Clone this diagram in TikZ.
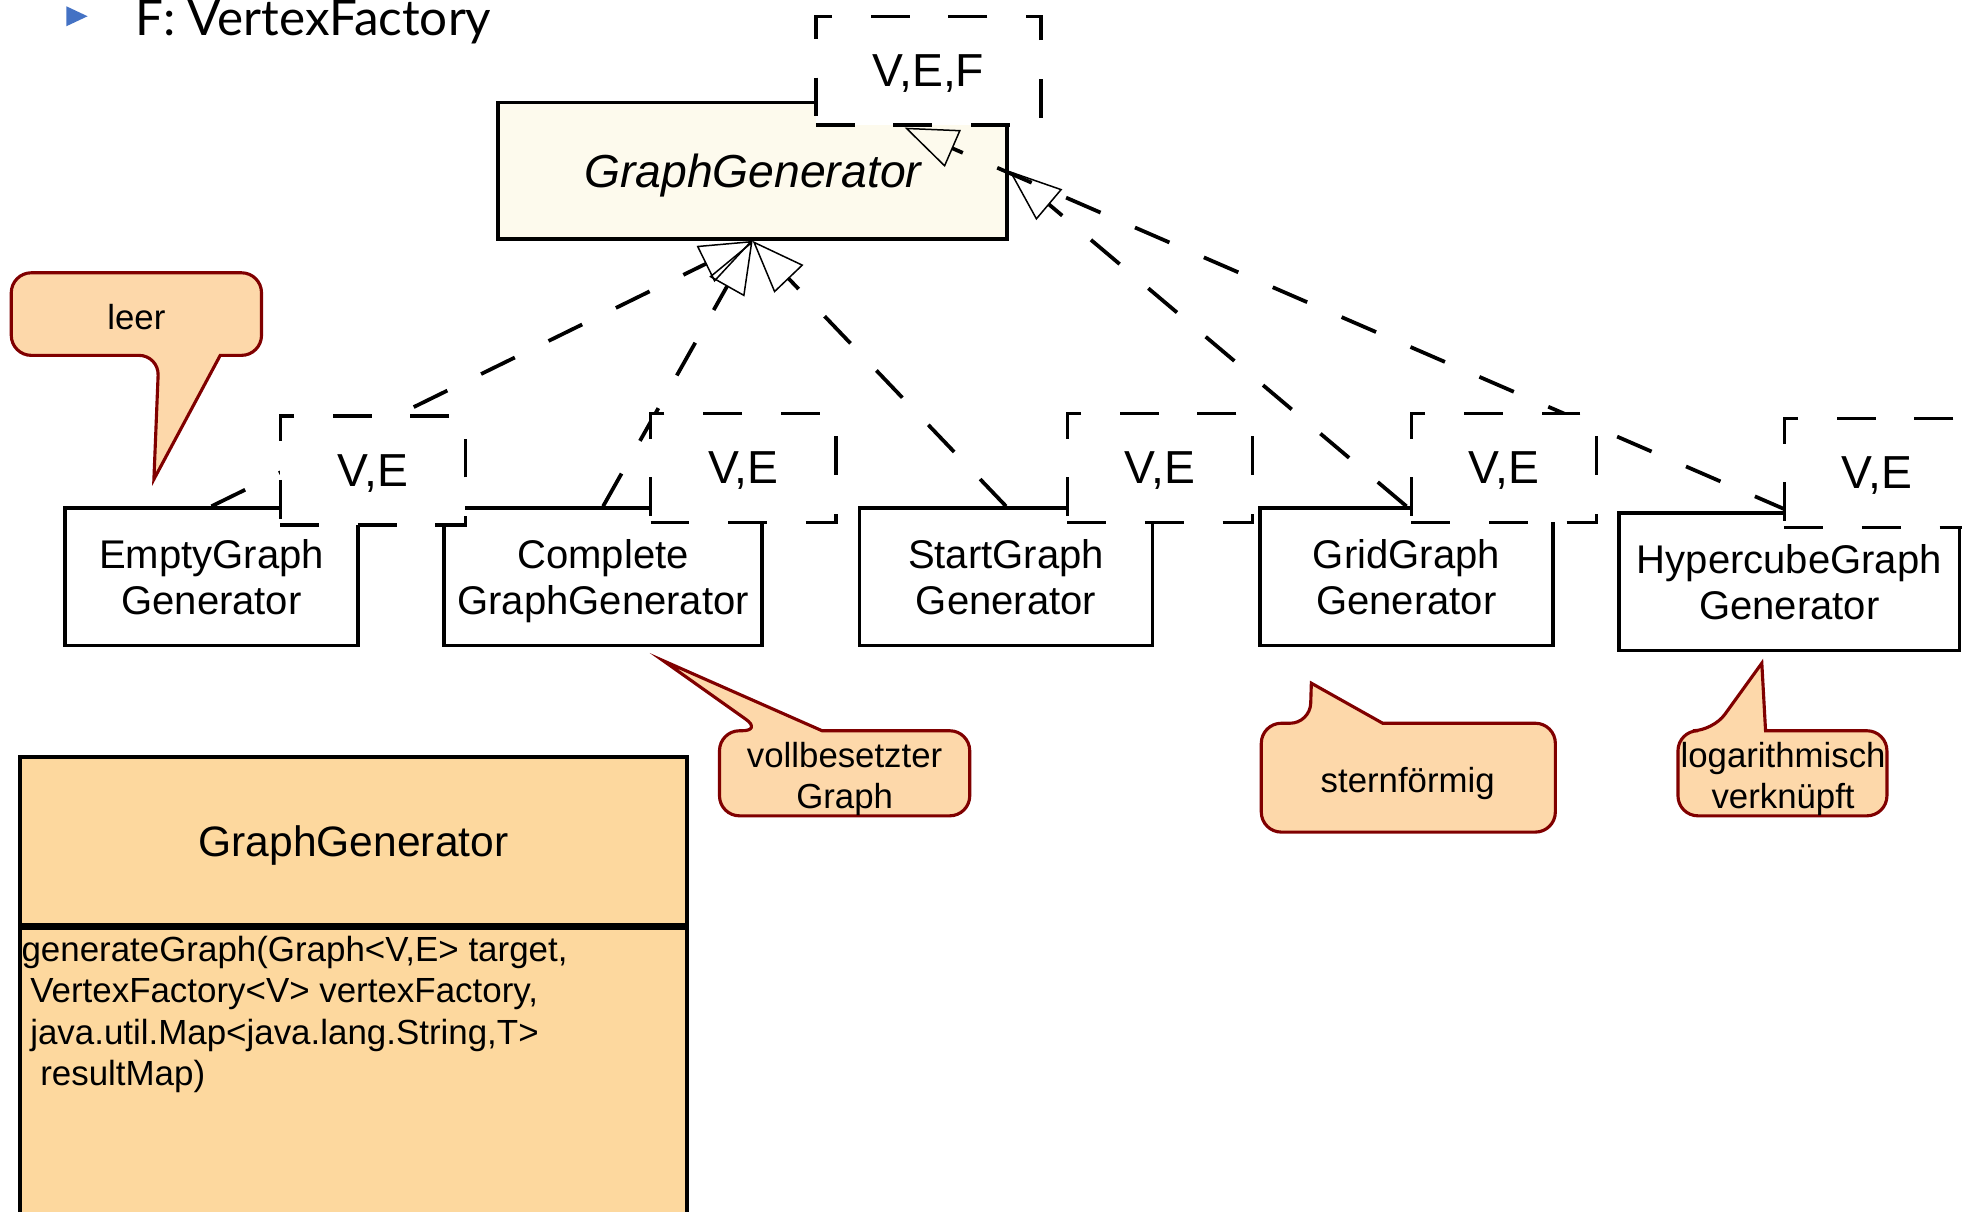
\documentclass[tikz,border=0pt]{standalone}
\usepackage{fontspec}
\setmainfont{Liberation Sans}
\newfontfamily\headfont{Lato}
\usetikzlibrary{arrows.meta}

\definecolor{ifacefill}{RGB}{253,250,237}
\definecolor{classfill}{RGB}{253,216,158}
\definecolor{notefill}{RGB}{253,216,170}
\definecolor{noteline}{RGB}{128,0,0}
\definecolor{bulletblue}{RGB}{68,114,196}

\begin{document}
\begin{tikzpicture}[x=1pt,y=-1pt,node distance=320pt,
                    >={Triangle[open,length=42pt,width=32pt,line width=1.2pt]}]
  \tikzstyle{gen}=[draw,line width=2.8pt,minimum width=234pt,minimum height=110pt,
                   align=center,text depth=0pt,font=\fontsize{32}{37}\selectfont]
  \tikzstyle{tparam}=[draw,fill=white,line width=2.8pt,dash pattern=on 31pt off 31pt,
                      minimum width=148pt,minimum height=87pt,text depth=0pt,
                      font=\fontsize{37}{44}\selectfont]
  \tikzstyle{impl}=[->,line width=3pt,dash pattern=on 30pt off 30pt]
  \tikzstyle{note}=[draw=noteline,fill=notefill,line width=2.5pt]
  \tikzstyle{notetext}=[align=center,font=\fontsize{27.8}{33}\selectfont]

  \useasboundingbox (0,0) rectangle (1568,968);

  % slide bullet
  \fill[bulletblue] (53,5) -- (70,13) -- (53,21) -- cycle;
  \node[anchor=base west,inner sep=0pt,font=\headfont\fontsize{39.5}{46}\selectfont]
        (head) at (108,28) {F: VertexFactory};

  % interface
  \node[draw,fill=ifacefill,line width=3pt,minimum width=407pt,minimum height=109pt,
        text depth=0pt,font=\itshape\fontsize{37}{44}\selectfont] (G) at (601.5,136.5) {GraphGenerator};

  % implementations
  \node[gen]                     (E) at (169,461)                        {EmptyGraph\\Generator};
  \node[gen,minimum width=254pt] (C) [right of=E,node distance=313pt]    {Complete\\GraphGenerator};
  \node[gen]                     (S) [right of=C,node distance=322pt]    {StartGraph\\Generator};
  \node[gen]                     (R) [right of=S]                        {GridGraph\\Generator};
  \node[gen,minimum width=272pt,yshift=-4pt]
                                 (H) [right of=R,node distance=306pt]    {HypercubeGraph\\Generator};

  \coordinate (Gtip) at (723,102);

  \path (E.north) edge[impl] (G.south)
        (C.north) edge[impl] (G.south)
        (S.north) edge[impl] (G.south)
        (R.north) edge[impl] (G.east)
        (H.north) edge[impl] (Gtip);

  % type parameters
  \node[tparam,minimum width=180pt] (Gp) at (742,56.5) {V,E,F};
  \node[tparam] (Ep) at (298,376)    {V,E};
  \node[tparam] (Cp) at (594,374)    {V,E};
  \node[tparam] (Sp) at (927,374)    {V,E};
  \node[tparam] (Rp) at (1202,374)   {V,E};
  \node[tparam] (Hp) at (1500,378)   {V,E};

  % notes
  \draw[note] (123,383) -- (176,284) [rounded corners=16pt] -- (209,284) -- (209,218)
              -- (9,218) -- (9,284) -- (127,284) [sharp corners] -- cycle;
  \node[notetext] (nleer) at (109,253) {leer};

  \draw[note] (530,528) -- (657,584) [rounded corners=16pt] -- (775,584) -- (775,652)
              -- (575,652) -- (575,584) -- (609,584) [sharp corners] -- cycle;
  \node[notetext] (nvoll) at (675,622.5) {vollbesetzter\\Graph};

  \draw[note] (1048,546) -- (1105,578) [rounded corners=16pt] -- (1243,578) -- (1243,665)
              -- (1008,665) -- (1008,578) -- (1047,578) [sharp corners] -- cycle;
  \node[notetext] (nstern) at (1125,626) {sternförmig};

  \draw[note] (1408,530) -- (1411,584) [rounded corners=16pt] -- (1508,584) -- (1508,652)
              -- (1341,652) -- (1341,584) -- (1369,584) [sharp corners] -- cycle;
  \node[notetext] (nlog) at (1425,622.5) {logarithmisch\\verknüpft};

  % class box
  \node[draw,fill=classfill,line width=3pt,minimum width=533pt,minimum height=134pt,
        text depth=0pt,font=\fontsize{34}{40}\selectfont] (GG) at (282.5,672) {GraphGenerator};
  \node[draw,fill=classfill,line width=3pt,minimum width=533pt,minimum height=260pt,
        anchor=north] (GGops) at (GG.south) {};
  \node[anchor=north west,align=left,inner sep=0pt,font=\fontsize{27.9}{33}\selectfont]
        (GGsig) at (17,748) {generateGraph(Graph<V,E> target,\\
        \hspace*{7pt}VertexFactory<V> vertexFactory,\\
        \hspace*{7pt}java.util.Map<java.lang.String,T>\\
        \hspace*{15pt}resultMap)};
\end{tikzpicture}
\end{document}
